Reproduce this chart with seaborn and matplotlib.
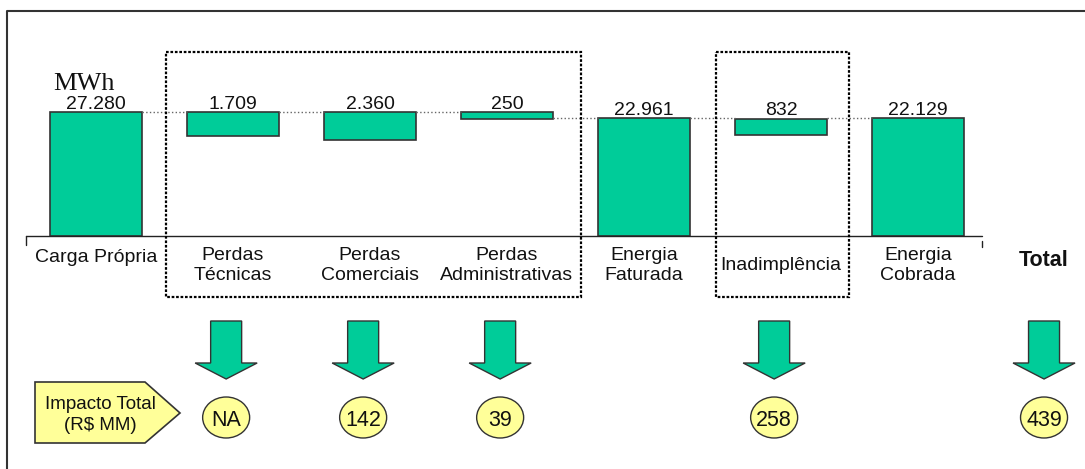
import matplotlib
matplotlib.use("Agg")
import matplotlib.pyplot as plt
from matplotlib.patches import Polygon, Ellipse, Rectangle
import seaborn as sns
import pandas as pd

# Dados do gráfico (cascata de energia, MWh)
categorias = ["Carga Própria", "Perdas\nTécnicas", "Perdas\nComerciais", "Perdas\nAdministrativas",
              "Energia\nFaturada", "Inadimplência", "Energia\nCobrada"]
energia_mwh = [27280, 1709, 2360, 250, 22961, 832, 22129]

# O desenho original é esquemático (fora de escala): topo e base de cada barra
topo_barra = [124, 124, 124, 124, 117.5, 117.5, 117.5]
base_barra = [0, 100, 96.5, 117.5, 0, 101.5, 0]

# Impacto total em R$ MM
impacto_cat = ["Perdas\nTécnicas", "Perdas\nComerciais", "Perdas\nAdministrativas", "Inadimplência", "Total"]
impacto_rs = ["NA", "142", "39", "258", "439"]

verde = "#00CC99"
amarelo = "#FFFF99"
borda = "#333333"

sns.set_theme(style="white")
plt.rcParams["font.family"] = ["Liberation Sans", "DejaVu Sans"]

W, H = 1085, 469
fig = plt.figure(figsize=(W / 100, H / 100), dpi=100)
ax = fig.add_axes([0, 0, 1, 1])

df = pd.DataFrame({"categoria": categorias,
                   "altura": [t - b for t, b in zip(topo_barra, base_barra)]})
sns.barplot(data=df, x="categoria", y="altura", order=categorias, bottom=base_barra,
            width=0.67, color=verde, saturation=1, edgecolor=borda, linewidth=1.2,
            errorbar=None, ax=ax)

# eixo x: 1 categoria = 137 px, centro da primeira em x=96 px; eixo y em px acima da linha base (y=236 px)
PX_CAT, X0, Y0 = 137, 96, 236
ax.set_xlim(-X0 / PX_CAT, (W - X0) / PX_CAT)
ax.set_ylim(Y0 - H, Y0)
ax.set_axis_off()


def px(x):
    return (x - X0) / PX_CAT


def py(y):
    return Y0 - y


# linha base com as marcas das pontas
ax.plot([px(26), px(981.5)], [0, 0], color="#222222", lw=1)
ax.plot([px(26), px(26)], [0, py(245)], color="#222222", lw=1)
ax.plot([px(981.5), px(981.5)], [py(241), py(247)], color="#222222", lw=1)

barras = ax.patches
# conectores pontilhados
for i in range(len(barras) - 1):
    x1 = barras[i].get_x() + barras[i].get_width()
    x2 = barras[i + 1].get_x()
    ax.plot([x1, x2], [topo_barra[i + 1]] * 2, ls=":", color="#666666", lw=1)

# valores acima das barras
for i, b in enumerate(barras):
    txt = f"{energia_mwh[i]:,}".replace(",", ".")
    ax.text(b.get_x() + b.get_width() / 2, topo_barra[i] + 3.5, txt,
            ha="center", va="baseline", fontsize=14, color="#111111")

# rótulos das categorias
ajuste = {"Inadimplência": 8}
for i, cat in enumerate(categorias):
    linhas = cat.split("\n")
    for k, linha in enumerate(linhas):
        base = 260 + 20 * k if len(linhas) > 1 else 262 + ajuste.get(cat, 0)
        ax.text(i, py(base), linha, ha="center", va="baseline", fontsize=14, color="#111111")

pos_total = 6.92
ax.text(pos_total, py(266), "Total", ha="center", va="baseline", fontsize=15.5,
        fontweight="bold", color="#111111")

ax.text(px(53), py(90), "MWh", family=["Liberation Serif", "DejaVu Serif"], fontsize=19,
        ha="left", va="baseline", color="#111111")

# setas e círculos do impacto
for cat, val in zip(impacto_cat, impacto_rs):
    cx = categorias.index(cat) - 0.05 if cat in categorias else pos_total
    hs, hh = 15.5 / PX_CAT, 31 / PX_CAT
    seta = [(cx - hs, py(321)), (cx + hs, py(321)), (cx + hs, py(363)), (cx + hh, py(363)),
            (cx, py(379)), (cx - hh, py(363)), (cx - hs, py(363))]
    ax.add_patch(Polygon(seta, closed=True, fc=verde, ec=borda, lw=1))
    ax.add_patch(Ellipse((cx, py(417.5)), 47 / PX_CAT, 41, fc=amarelo, ec=borda, lw=1))
    ax.text(cx, py(425.5), val, ha="center", va="baseline", fontsize=15.5, color="#111111")

# camada de decoração em pixels
ax2 = fig.add_axes([0, 0, 1, 1])
ax2.set_xlim(0, W)
ax2.set_ylim(H, 0)
ax2.set_axis_off()
ax2.patch.set_alpha(0)

ax2.plot([7, 7, W], [H, 11, 11], color=borda, lw=1.5)
for x1, x2 in [(165.5, 580.5), (716, 848.5)]:
    ax2.add_patch(Rectangle((x1, 52.5), x2 - x1, 297 - 52.5, fill=False, ec="black",
                            lw=1.6, ls=(0, (1.2, 0.8))))

ax2.add_patch(Polygon([(35, 382), (145, 382), (180, 413), (145, 443), (35, 443)],
                      closed=True, fc=amarelo, ec=borda, lw=1.2))
ax2.text(100, 409, "Impacto Total", ha="center", va="baseline", fontsize=13.5, color="#111111")
ax2.text(100, 430, "(R$ MM)", ha="center", va="baseline", fontsize=13.5, color="#111111")

fig.savefig("out.png", dpi=100)
